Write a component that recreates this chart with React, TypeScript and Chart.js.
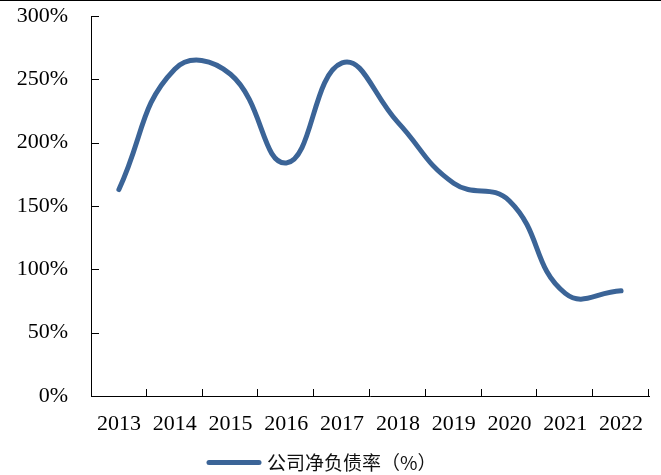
import React, { useEffect, useRef } from "react";
import { Chart, registerables } from "chart.js";

Chart.register(...registerables);

// Net debt ratio of the company, by year (%)
const years = ["2013", "2014", "2015", "2016", "2017", "2018", "2019", "2020", "2021", "2022"];
const netDebtRatio = [163, 258, 254, 184, 263, 216, 168, 154, 81, 83];
const yTickValues = [0, 50, 100, 150, 200, 250, 300];
const seriesLabel = "公司净负债率（%）";

const LINE_COLOR = "#3B6497";
const SERIF = "'Liberation Serif', 'Times New Roman', serif";
const CJK = "'Noto Sans CJK SC', 'Noto Sans', sans-serif";

const WIDTH = 661;
const HEIGHT = 475;

// Inward tick marks, the legend row and the thin rule along the top edge
const decorations = {
  id: "decorations",
  afterDraw(chart: any) {
    const { ctx, chartArea, scales } = chart;
    const y = scales.y;
    ctx.save();
    ctx.strokeStyle = "#000";
    ctx.lineWidth = 1;
    ctx.beginPath();
    yTickValues.forEach((v) => {
      const py = Math.round(y.getPixelForValue(v)) + 0.5;
      ctx.moveTo(chartArea.left, py);
      ctx.lineTo(chartArea.left + 8, py);
    });
    const step = (chartArea.right - chartArea.left) / years.length;
    for (let i = 1; i <= years.length; i++) {
      const px = Math.round(chartArea.left + i * step) - 0.5;
      ctx.moveTo(px, chartArea.bottom);
      ctx.lineTo(px, chartArea.bottom - 7);
    }
    ctx.stroke();

    ctx.fillStyle = "#000";
    ctx.fillRect(0, 0, chart.width, 1);

    // legend
    const ly = 462.5;
    ctx.strokeStyle = LINE_COLOR;
    ctx.lineWidth = 5;
    ctx.lineCap = "round";
    ctx.beginPath();
    ctx.moveTo(209, ly);
    ctx.lineTo(259, ly);
    ctx.stroke();
    ctx.fillStyle = "#111";
    ctx.font = `19px ${CJK}`;
    ctx.textAlign = "left";
    ctx.textBaseline = "middle";
    ctx.fillText(seriesLabel, 267, ly);
    ctx.restore();
  },
};

export default function App() {
  const canvasRef = useRef<HTMLCanvasElement | null>(null);

  useEffect(() => {
    const canvas = canvasRef.current;
    if (!canvas) return;
    const chart = new Chart(canvas, {
      type: "line",
      data: {
        labels: years,
        datasets: [
          {
            label: seriesLabel,
            data: netDebtRatio,
            borderColor: LINE_COLOR,
            backgroundColor: LINE_COLOR,
            borderWidth: 5,
            borderCapStyle: "round",
            borderJoinStyle: "round",
            pointRadius: 0,
            pointHoverRadius: 0,
            tension: 0.45,
            fill: false,
          },
        ],
      },
      options: {
        responsive: false,
        animation: false,
        devicePixelRatio: 1,
        layout: { padding: { top: 16, right: 12, bottom: 0, left: 0 } },
        plugins: {
          legend: { display: false },
          tooltip: { enabled: false },
        },
        scales: {
          x: {
            type: "category",
            offset: true,
            grid: { display: false, drawTicks: true, tickLength: 15 },
            border: { display: true, color: "#000", width: 1 },
            ticks: {
              color: "#000",
              font: { family: SERIF, size: 22 },
              padding: 0,
              maxRotation: 0,
              autoSkip: false,
            },
            afterFit(scale: any) {
              scale.height = HEIGHT - 396;
            },
          },
          y: {
            min: 0,
            max: 300,
            grid: { display: false, drawTicks: true, tickLength: 23 },
            border: { display: true, color: "#000", width: 1 },
            ticks: {
              stepSize: 50,
              color: "#000",
              font: { family: SERIF, size: 22 },
              padding: 0,
              callback: (v: any) => `${v}%`,
            },
            afterFit(scale: any) {
              scale.width = 91;
            },
          },
        },
      },
      plugins: [decorations],
    });
    return () => chart.destroy();
  }, []);

  return (
    <div style={{ position: "absolute", left: 0, top: 0, width: WIDTH, height: HEIGHT, background: "#fff" }}>
      <canvas ref={canvasRef} width={WIDTH} height={HEIGHT} style={{ display: "block" }} />
    </div>
  );
}
